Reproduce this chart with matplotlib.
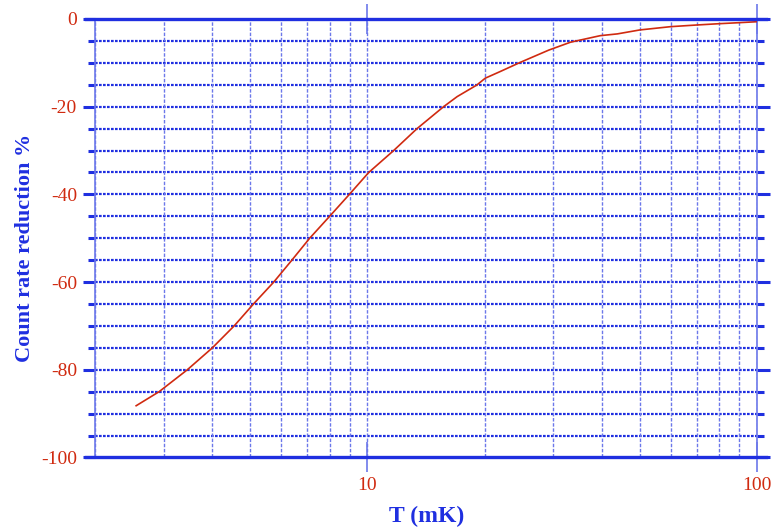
import numpy as np
import matplotlib
matplotlib.use('Agg')
import matplotlib.pyplot as plt
from matplotlib.ticker import FixedLocator, NullFormatter, MultipleLocator

# count rate reduction vs temperature
temp_mk = [2.55, 2.92, 3.45, 4.0, 4.55, 5.1, 5.75, 6.4, 7.11, 8.0, 8.99,
           10.08, 11.68, 13.41, 15.69, 17.0, 19.1, 20.07, 21.9, 24.67, 29.2,
           33.2, 39.6, 43.8, 50.0, 60.0, 70.0, 80.0, 90.0, 100.0]
reduction = [-88.2, -85.0, -80.0, -75.0, -70.0, -65.0, -60.0, -55.0, -50.0,
             -45.0, -40.0, -35.0, -30.0, -25.0, -20.0, -17.7, -15.05, -13.5,
             -12.0, -9.9, -7.1, -5.3, -3.8, -3.4, -2.5, -1.75, -1.37, -1.07,
             -0.84, -0.62]

x_major = [10, 100]
x_minor = [2, 3, 4, 5, 6, 7, 8, 9, 20, 30, 40, 50, 60, 70, 80, 90]
y_ticks = [0, -20, -40, -60, -80, -100]

BLUE = '#1f2fe0'
LIGHT_BLUE = '#6c78ea'
RED = '#d02a10'

plt.rcParams['font.family'] = ['Liberation Serif', 'DejaVu Serif']
plt.rcParams['axes.unicode_minus'] = False

fig = plt.figure(figsize=(7.72, 5.29), dpi=100)
ax = fig.add_axes([0.1231, 0.1352, 0.8575, 0.8289])

ax.set_xscale('log')
ax.set_xlim(2, 100)
ax.set_ylim(-100, 0)

# grid: dense dotted horizontals every 5 %, lighter verticals at decades
for yv in np.arange(-95, 0, 5):
    ax.axhline(yv, color=BLUE, lw=1.6, ls=(0, (1.2, 0.6)), zorder=1)
for xv in x_minor + x_major:
    ax.axvline(xv, color=LIGHT_BLUE, lw=1.0, ls=(0, (2.5, 1.2)), zorder=1)

ax.plot(temp_mk, reduction, color=RED, lw=1.2, zorder=3)

# frame: heavy top/bottom rules running slightly past the plot box
for yv in (0, -100):
    ax.axhline(yv, xmin=-0.014, xmax=1.014, color=BLUE, lw=2.4,
               clip_on=False, zorder=4)
for side in ('top', 'bottom'):
    ax.spines[side].set_visible(False)
for side in ('left', 'right'):
    ax.spines[side].set_color(LIGHT_BLUE)
    ax.spines[side].set_linewidth(1.2)

ax.xaxis.set_major_locator(FixedLocator(x_major))
ax.xaxis.set_minor_locator(FixedLocator(x_minor))
ax.xaxis.set_minor_formatter(NullFormatter())
ax.set_xticklabels(['10', '100'])
ax.tick_params(axis='x', which='major', direction='inout', length=22,
               width=1.2, color=LIGHT_BLUE, top=True, pad=3,
               labelsize=14, labelcolor=RED)
ax.tick_params(axis='x', which='minor', length=0)

ax.yaxis.set_major_locator(FixedLocator(y_ticks))
ax.yaxis.set_minor_locator(MultipleLocator(5))
ax.tick_params(axis='y', which='major', direction='out', length=9,
               width=2.2, color=BLUE, right=True, pad=4,
               labelsize=14, labelcolor=RED)
ax.tick_params(axis='y', which='minor', direction='out', length=5,
               width=2.2, color=BLUE, right=True)

ax.set_xlabel('T (mK)', fontsize=17, fontweight='bold', color=BLUE)
ax.xaxis.set_label_coords(0.5015, -0.11)
ax.xaxis.label.set_va('top')
ax.set_ylabel('Count rate reduction %', fontsize=16, fontweight='bold',
              color=BLUE)
ax.yaxis.set_label_coords(-0.106, 0.477)
ax.yaxis.label.set_va('center')

fig.savefig('out.png', dpi=100)
